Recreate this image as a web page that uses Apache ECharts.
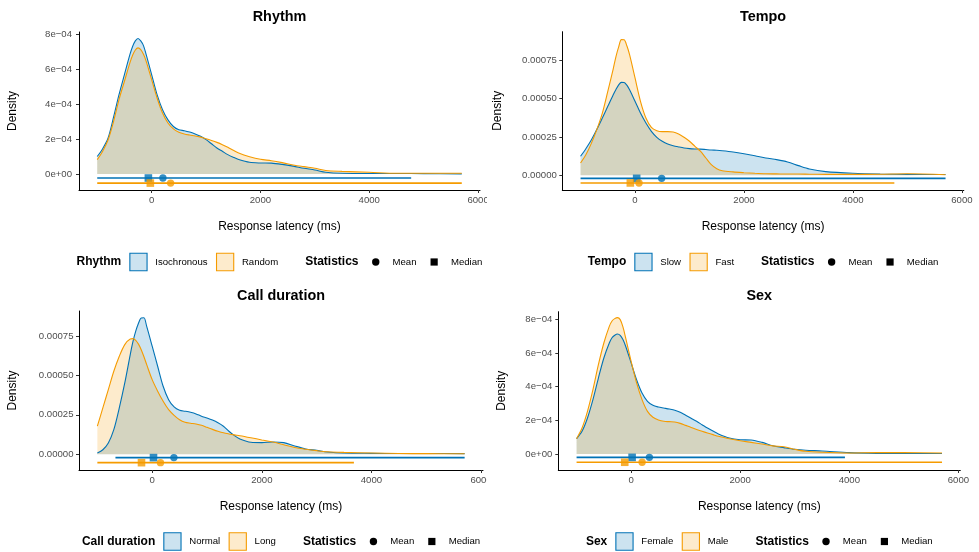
<!DOCTYPE html>
<html>
<head>
<meta charset="utf-8">
<script src="https://cdn.jsdelivr.net/npm/echarts@6/dist/echarts.min.js"></script>
<style>
  html, body { margin: 0; padding: 0; background: #fff; }
  #wrap { position: relative; width: 979px; height: 552px; overflow: hidden; }
  .panel { position: absolute; overflow: hidden; }
</style>
</head>
<body>
<div id="wrap">
  <div class="panel" id="p-rhythm" style="left:0;top:0;width:487px;height:276px"></div>
  <div class="panel" id="p-tempo" style="left:490px;top:0;width:489px;height:276px"></div>
  <div class="panel" id="p-call" style="left:0;top:276px;width:487px;height:276px"></div>
  <div class="panel" id="p-sex" style="left:490px;top:276px;width:489px;height:276px"></div>
</div>
<script>
// Response latency grid (ms) shared by all density curves
const latency = [-1000, -900, -800, -700, -600, -500, -400, -350, -300, -250, -200, -150, -100,
  0, 100, 200, 300, 400, 500, 600, 700, 800, 900, 1000, 1100, 1200, 1300, 1400, 1500, 1600,
  1800, 2000, 2200, 2400, 2600, 2800, 3000, 3200, 3500, 4000, 4500, 5000, 5700];

// Kernel densities, in units of 1e-4 per ms
const rhythmIsochronous = [1.00, 1.45, 2.06, 3.25, 4.54, 5.69, 6.83, 7.30, 7.62, 7.76, 7.62, 7.35, 6.83,
  5.69, 4.54, 3.68, 3.10, 2.72, 2.53, 2.48, 2.40, 2.29, 2.16, 1.97, 1.73, 1.49, 1.30, 1.11, 0.96, 0.83,
  0.67, 0.63, 0.62, 0.55, 0.45, 0.33, 0.23, 0.10, 0.04, 0.03, 0.03, 0.02, 0.01];
const rhythmRandom = [0.82, 1.30, 1.96, 3.00, 4.26, 5.31, 6.36, 6.80, 7.10, 7.22, 7.12, 6.85, 6.45,
  5.40, 4.35, 3.49, 2.92, 2.58, 2.39, 2.29, 2.23, 2.18, 2.11, 2.02, 1.92, 1.81, 1.68, 1.53, 1.36, 1.20,
  0.99, 0.84, 0.76, 0.65, 0.52, 0.42, 0.33, 0.20, 0.15, 0.10, 0.04, 0.04, 0.04];

const tempoSlow = [1.24, 1.75, 2.32, 3.00, 3.74, 4.50, 5.26, 5.60, 5.90, 6.06, 6.05, 5.88, 5.58,
  4.83, 4.06, 3.41, 2.87, 2.48, 2.22, 2.04, 1.93, 1.85, 1.78, 1.74, 1.72, 1.71, 1.68, 1.65, 1.63, 1.60,
  1.52, 1.41, 1.28, 1.13, 1.02, 0.87, 0.63, 0.41, 0.24, 0.13, 0.08, 0.06, 0.05];
const tempoFast = [0.80, 1.35, 2.10, 3.00, 4.06, 5.48, 6.95, 7.75, 8.38, 8.85, 8.84, 8.45, 7.87,
  6.35, 4.83, 3.74, 3.13, 2.91, 2.85, 2.85, 2.83, 2.70, 2.48, 2.22, 1.89, 1.57, 1.13, 0.69, 0.43, 0.30,
  0.22, 0.17, 0.13, 0.10, 0.09, 0.08, 0.08, 0.07, 0.06, 0.06, 0.07, 0.10, 0.04];

const callNormal = [0.08, 0.29, 0.72, 1.56, 2.94, 4.52, 6.32, 7.15, 7.80, 8.30, 8.64, 8.65, 8.10,
  6.85, 5.58, 4.31, 3.46, 3.00, 2.79, 2.73, 2.66, 2.56, 2.41, 2.30, 2.17, 2.00, 1.78, 1.46, 1.18, 0.97,
  0.76, 0.74, 0.78, 0.74, 0.53, 0.34, 0.25, 0.15, 0.08, 0.06, 0.05, 0.05, 0.04];
const callLong = [1.78, 2.94, 4.10, 5.26, 6.21, 6.95, 7.31, 7.33, 7.22, 6.98, 6.63, 6.18, 5.68,
  4.73, 4.00, 3.36, 2.83, 2.47, 2.19, 2.03, 1.97, 1.92, 1.84, 1.71, 1.58, 1.46, 1.36, 1.29, 1.23, 1.18,
  1.05, 0.91, 0.78, 0.61, 0.43, 0.32, 0.23, 0.16, 0.12, 0.08, 0.05, 0.04, 0.03];

const sexFemale = [0.91, 1.35, 2.14, 3.23, 4.51, 5.70, 6.59, 6.90, 7.05, 7.13, 7.05, 6.80, 6.40,
  5.41, 4.41, 3.62, 3.13, 2.89, 2.79, 2.73, 2.67, 2.60, 2.48, 2.30, 2.12, 1.94, 1.74, 1.54, 1.36, 1.19,
  0.95, 0.85, 0.83, 0.69, 0.49, 0.38, 0.28, 0.22, 0.18, 0.08, 0.04, 0.03, 0.03];
const sexMale = [0.91, 1.54, 2.53, 3.82, 5.30, 6.59, 7.58, 7.90, 8.04, 8.10, 7.98, 7.55, 6.89,
  5.50, 4.22, 3.23, 2.53, 2.18, 2.02, 1.94, 1.92, 1.90, 1.82, 1.70, 1.58, 1.45, 1.35, 1.25, 1.15, 1.05,
  0.91, 0.79, 0.69, 0.59, 0.48, 0.43, 0.28, 0.16, 0.10, 0.06, 0.08, 0.08, 0.06];

// Summary statistics per group (ms): [first group, second group]
const rhythmRanges = [[-1000, 4770], [-1000, 5700]];
const rhythmMeans = [207, 349];
const rhythmMedians = [-60, -24];
const tempoRanges = [[-1000, 5700], [-1000, 4760]];
const tempoMeans = [489, 73];
const tempoMedians = [30, -86];
const callRanges = [[-670, 5700], [-1000, 3680]];
const callMeans = [396, 151];
const callMedians = [24, -195];
const sexRanges = [[-1000, 3920], [-1000, 5700]];
const sexMeans = [335, 201];
const sexMedians = [18, -117];

// Tick positions
const xTicks = [0, 2000, 4000, 6000];
const sciTicks = [0, 2, 4, 6, 8];       // shown as 0e+00 … 8e−04
const decTicks = [0, 2.5, 5, 7.5];      // shown as 0.00000 … 0.00075

const FONT = '"Liberation Sans", Arial, Helvetica, sans-serif';
const BLUE = '#0072B5';
const ORANGE = '#F59B00';
const COLORS = [BLUE, ORANGE];

function fmtSci(v) { return v === 0 ? '0e+00' : v + 'e\u221204'; }
function fmtDec(v) { return (v * 1e-4).toFixed(5); }
function fmtPlain(v) { return String(v); }
function tint(hex, a) {
  const n = parseInt(hex.slice(1), 16);
  return 'rgba(' + (n >> 16) + ',' + ((n >> 8) & 255) + ',' + (n & 255) + ',' + a + ')';
}

const measureCtx = document.createElement('canvas').getContext('2d');
function textWidth(text, size, bold) {
  measureCtx.font = (bold ? 'bold ' : '') + size + 'px ' + FONT;
  return measureCtx.measureText(text).width;
}

const panels = [
  { el: 'p-rhythm', title: 'Rhythm', groupNames: ['Isochronous', 'Random'],
    densities: [rhythmIsochronous, rhythmRandom], ranges: rhythmRanges, means: rhythmMeans, medians: rhythmMedians,
    yTicks: sciTicks, yFmt: fmtSci, yMin: -0.916, yMax: 8.13, rows: [-0.23, -0.52],
    grid: { left: 79, top: 32, width: 401, height: 158 }, yNameGap: 60, yLabelGap: 7, titleY: 16.7, legendY: 262 },
  { el: 'p-tempo', title: 'Tempo', groupNames: ['Slow', 'Fast'],
    densities: [tempoSlow, tempoFast], ranges: tempoRanges, means: tempoMeans, medians: tempoMedians,
    yTicks: decTicks, yFmt: fmtDec, yMin: -0.96, yMax: 9.37, rows: [-0.20, -0.50],
    grid: { left: 72.3, top: 31.7, width: 401.5, height: 158.3 }, yNameGap: 59, yLabelGap: 5.5, titleY: 16.7, legendY: 262 },
  { el: 'p-call', title: 'Call duration', groupNames: ['Normal', 'Long'],
    densities: [callNormal, callLong], ranges: callRanges, means: callMeans, medians: callMedians,
    yTicks: decTicks, yFmt: fmtDec, yMin: -0.995, yMax: 9.08, rows: [-0.21, -0.53],
    grid: { left: 79, top: 35, width: 404, height: 159 }, yNameGap: 60, yLabelGap: 5.5, titleY: 20, legendY: 265.5 },
  { el: 'p-sex', title: 'Sex', groupNames: ['Female', 'Male'],
    densities: [sexFemale, sexMale], ranges: sexRanges, means: sexMeans, medians: sexMedians,
    yTicks: sciTicks, yFmt: fmtSci, yMin: -0.95, yMax: 8.45, rows: [-0.20, -0.49],
    grid: { left: 68.3, top: 35.7, width: 402, height: 158.3 }, yNameGap: 51, yLabelGap: 6, titleY: 20, legendY: 265.5 }
];

function legendGraphics(p, cx) {
  const KEY = 18.4, KEY_GAP = 7.6, ITEM_GAP = 8.4, TITLE_GAP = 8, BLOCK_GAP = 27;
  const TS = 12, LS = 9.6;
  const seq = [];
  seq.push({ kind: 'title', text: p.title });
  seq.push({ kind: 'box', color: COLORS[0] });
  seq.push({ kind: 'label', text: p.groupNames[0] });
  seq.push({ kind: 'box', color: COLORS[1] });
  seq.push({ kind: 'label', text: p.groupNames[1] });
  seq.push({ kind: 'title', text: 'Statistics', block: true });
  seq.push({ kind: 'circle' });
  seq.push({ kind: 'label', text: 'Mean' });
  seq.push({ kind: 'square' });
  seq.push({ kind: 'label', text: 'Median' });

  // widths and gaps preceding each item
  let total = 0;
  seq.forEach((it, i) => {
    it.w = it.kind === 'title' ? textWidth(it.text, TS, true)
      : it.kind === 'label' ? textWidth(it.text, LS, false) : KEY;
    const prev = seq[i - 1];
    it.gap = !prev ? 0
      : it.block ? BLOCK_GAP
      : prev.kind === 'title' ? TITLE_GAP
      : prev.kind === 'label' ? ITEM_GAP : KEY_GAP;
    total += it.gap + it.w;
  });

  const y = p.legendY;
  let x = cx - total / 2;
  const out = [];
  seq.forEach(it => {
    x += it.gap;
    if (it.kind === 'title' || it.kind === 'label') {
      out.push({ type: 'text', silent: true, style: {
        text: it.text, x: x, y: y, fill: '#000', align: 'left', verticalAlign: 'middle',
        font: (it.kind === 'title' ? 'bold ' + TS : LS) + 'px ' + FONT } });
    } else if (it.kind === 'box') {
      out.push({ type: 'rect', silent: true,
        shape: { x: x + 0.6, y: y - 8.7, width: 17.2, height: 17.4 },
        style: { fill: tint(it.color, 0.2), stroke: it.color, lineWidth: 1.1 } });
    } else if (it.kind === 'circle') {
      out.push({ type: 'circle', silent: true,
        shape: { cx: x + KEY / 2, cy: y, r: 3.7 }, style: { fill: '#000' } });
    } else if (it.kind === 'square') {
      out.push({ type: 'rect', silent: true,
        shape: { x: x + KEY / 2 - 3.6, y: y - 3.6, width: 7.2, height: 7.2 }, style: { fill: '#000' } });
    }
    x += it.w;
  });
  return out;
}

panels.forEach(p => {
  const chart = echarts.init(document.getElementById(p.el), null, { renderer: 'canvas' });
  const g = p.grid;
  const cx = g.left + g.width / 2;
  const series = [];

  // density curves: first group underneath, second group drawn on top
  p.densities.forEach((dens, i) => {
    series.push({
      type: 'line', name: p.groupNames[i], silent: true, z: 2,
      data: latency.map((x, k) => [x, dens[k]]),
      smooth: 0.3, symbol: 'none',
      lineStyle: { color: COLORS[i], width: 1.1 },
      areaStyle: { color: COLORS[i], opacity: 0.2, origin: 0 }
    });
  });
  // range segments
  p.ranges.forEach((r, i) => {
    series.push({
      type: 'line', silent: true, z: 3, symbol: 'none',
      data: r.map(x => [x, p.rows[i]]),
      lineStyle: { color: COLORS[i], width: 1.6, cap: 'butt' }
    });
  });
  // medians (squares) and means (circles)
  p.medians.forEach((m, i) => {
    series.push({ type: 'scatter', silent: true, z: 4, symbol: 'rect', symbolSize: 7.6,
      data: [[m, p.rows[i]]], itemStyle: { color: COLORS[i] } });
    series.push({ type: 'scatter', silent: true, z: 4, symbol: 'circle', symbolSize: 7.4,
      data: [[p.means[i], p.rows[i]]], itemStyle: { color: COLORS[i] } });
  });

  chart.setOption({
    animation: false,
    backgroundColor: '#fff',
    textStyle: { fontFamily: FONT },
    grid: { left: g.left, top: g.top, width: g.width, height: g.height,
      containLabel: false, outerBoundsMode: 'none' },
    xAxis: {
      type: 'value', min: -1335, max: 6035,
      name: 'Response latency (ms)', nameLocation: 'middle', nameGap: 31,
      nameTextStyle: { color: '#000', fontSize: 12, fontFamily: FONT },
      axisLine: { show: true, onZero: false, lineStyle: { color: '#000', width: 1 } },
      axisTick: { show: true, length: 3, customValues: xTicks, lineStyle: { color: '#333', width: 1 } },
      axisLabel: { customValues: xTicks, formatter: fmtPlain, color: '#4d4d4d', fontSize: 9.6, margin: 5, fontFamily: FONT },
      splitLine: { show: false }
    },
    yAxis: {
      type: 'value', min: p.yMin, max: p.yMax,
      name: 'Density', nameLocation: 'middle', nameGap: p.yNameGap, nameRotate: 90,
      nameTextStyle: { color: '#000', fontSize: 12, fontFamily: FONT },
      axisLine: { show: true, onZero: false, lineStyle: { color: '#000', width: 1 } },
      axisTick: { show: true, length: 3, customValues: p.yTicks, lineStyle: { color: '#333', width: 1 } },
      axisLabel: { customValues: p.yTicks, formatter: p.yFmt, color: '#4d4d4d', fontSize: 9.6, margin: p.yLabelGap, fontFamily: FONT },
      splitLine: { show: false }
    },
    graphic: [
      { type: 'text', silent: true, style: {
        text: p.title, x: cx, y: p.titleY, align: 'center', verticalAlign: 'middle',
        fill: '#000', font: 'bold 14.4px ' + FONT } }
    ].concat(legendGraphics(p, cx)),
    series: series
  });
});
</script>
</body>
</html>
